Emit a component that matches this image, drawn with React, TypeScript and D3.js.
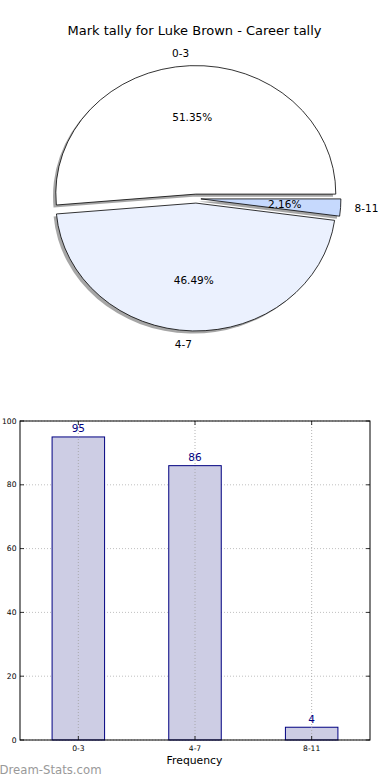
import React from "react";
import * as d3 from "d3";

const title = "Mark tally for Luke Brown - Career tally";
const categories = ["0-3", "4-7", "8-11"];
const counts = [95, 86, 4];
const pieColors = ["#ffffff", "#ebf1fe", "#c6d9fd"];
const yTicks = [0, 20, 40, 60, 80, 100];
const xLabel = "Frequency";
const watermark = "Dream-Stats.com";

const W = 390;
const H = 780;
const FONT = "DejaVu Sans, sans-serif";

export default function App() {
  const cx = 196;
  const cy = 198.6;
  const rx = 140;
  const ry = 128;
  const explode = 0.035;

  const total = d3.sum(counts);
  const pieGen = d3
    .pie<number>()
    .sort(null)
    .value((d) => d)
    .startAngle(Math.PI / 2)
    .endAngle(Math.PI / 2 - 2 * Math.PI);
  const arcs = pieGen(counts);
  const arcGen = d3.arc<d3.PieArcDatum<number>>().innerRadius(0).outerRadius(1);

  const slices = arcs.map((a, i) => {
    const mid = (a.startAngle + a.endAngle) / 2;
    const theta = Math.PI / 2 - mid;
    const ux = Math.cos(theta);
    const uy = -Math.sin(theta);
    const ox = cx + explode * rx * ux;
    const oy = cy + explode * ry * uy;
    return { a, i, ux, uy, ox, oy };
  });

  const left = 20;
  const right = 370;
  const top = 421;
  const bottom = 740;
  const x = d3.scaleBand<string>().domain(categories).range([left, right]).paddingInner(0.55).paddingOuter(0.275);
  const y = d3.scaleLinear().domain([0, 100]).range([bottom, top]);
  const xc = (c: string) => (x(c) as number) + x.bandwidth() / 2;

  return (
    <svg width={W} height={H} style={{ position: "absolute", left: 0, top: 0, background: "#fff" }} fontFamily={FONT}>
      <rect x={0} y={0} width={W} height={H} fill="#fff" />
      <text x={194.5} y={30} textAnchor="middle" dominantBaseline="central" fontSize={13} fill="#000">
        {title}
      </text>

      {slices.map((s) => (
        <path
          key={"sh" + s.i}
          d={arcGen(s.a) || ""}
          transform={`translate(${s.ox - 0.02 * rx},${s.oy + 0.02 * ry}) scale(${rx},${ry})`}
          fill="#4d4d4d"
          fillOpacity={0.5}
          stroke="none"
        />
      ))}
      {slices.map((s) => (
        <path
          key={"w" + s.i}
          d={arcGen(s.a) || ""}
          transform={`translate(${s.ox},${s.oy}) scale(${rx},${ry})`}
          fill={pieColors[s.i]}
          stroke="#000"
          strokeWidth={0.8}
          vectorEffect="non-scaling-stroke"
        />
      ))}
      {slices.map((s) => (
        <text
          key={"l" + s.i}
          x={s.ox + 1.1 * rx * s.ux}
          y={s.oy + 1.1 * ry * s.uy}
          textAnchor={s.ux > 0 ? "start" : "end"}
          dominantBaseline="central"
          fontSize={10.5}
          fill="#000"
        >
          {categories[s.i]}
        </text>
      ))}
      {slices.map((s) => (
        <text
          key={"p" + s.i}
          x={s.ox + 0.6 * rx * s.ux}
          y={s.oy + 0.6 * ry * s.uy}
          textAnchor="middle"
          dominantBaseline="central"
          fontSize={10.5}
          fill="#000"
        >
          {((counts[s.i] / total) * 100).toFixed(2)}%
        </text>
      ))}

      <g>
        {yTicks.map((t) => (
          <line key={"gy" + t} x1={left} x2={right} y1={y(t)} y2={y(t)} stroke="#b0b0b0" strokeWidth={0.8} strokeDasharray="1,2" />
        ))}
        {categories.map((c, i) => (
          <rect
            key={"b" + c}
            x={x(c)}
            y={y(counts[i])}
            width={x.bandwidth()}
            height={bottom - y(counts[i])}
            fill="#cdcde4"
            stroke="#000080"
            strokeWidth={1}
          />
        ))}
        {categories.map((c) => (
          <line key={"gx" + c} x1={xc(c)} x2={xc(c)} y1={top} y2={bottom} stroke="#a0a0a0" strokeWidth={0.8} strokeDasharray="1,2" />
        ))}
        {categories.map((c, i) => (
          <text key={"v" + c} x={xc(c)} y={y(counts[i]) - 4.5} textAnchor="middle" fontSize={10.5} fill="#000080">
            {counts[i]}
          </text>
        ))}
        <rect x={left} y={top} width={right - left} height={bottom - top} fill="none" stroke="#000" strokeWidth={1} />
        {yTicks.map((t) => (
          <g key={"ty" + t}>
            <line x1={left} x2={left + 4} y1={y(t)} y2={y(t)} stroke="#000" strokeWidth={0.8} />
            <line x1={right - 4} x2={right} y1={y(t)} y2={y(t)} stroke="#000" strokeWidth={0.8} />
            <text x={16.5} y={y(t)} textAnchor="end" dominantBaseline="central" fontSize={7.6} fill="#000">
              {t}
            </text>
          </g>
        ))}
        {categories.map((c) => (
          <g key={"tx" + c}>
            <line x1={xc(c)} x2={xc(c)} y1={bottom} y2={bottom - 4} stroke="#000" strokeWidth={0.8} />
            <line x1={xc(c)} x2={xc(c)} y1={top} y2={top + 4} stroke="#000" strokeWidth={0.8} />
            <text x={xc(c)} y={748} textAnchor="middle" dominantBaseline="central" fontSize={7.6} fill="#000">
              {c}
            </text>
          </g>
        ))}
        <text x={194.5} y={760} textAnchor="middle" dominantBaseline="central" fontSize={10.8} fill="#000">
          {xLabel}
        </text>
      </g>
      <text x={-0.5} y={770} dominantBaseline="central" fontSize={11.7} fill="#999999">
        {watermark}
      </text>
    </svg>
  );
}
